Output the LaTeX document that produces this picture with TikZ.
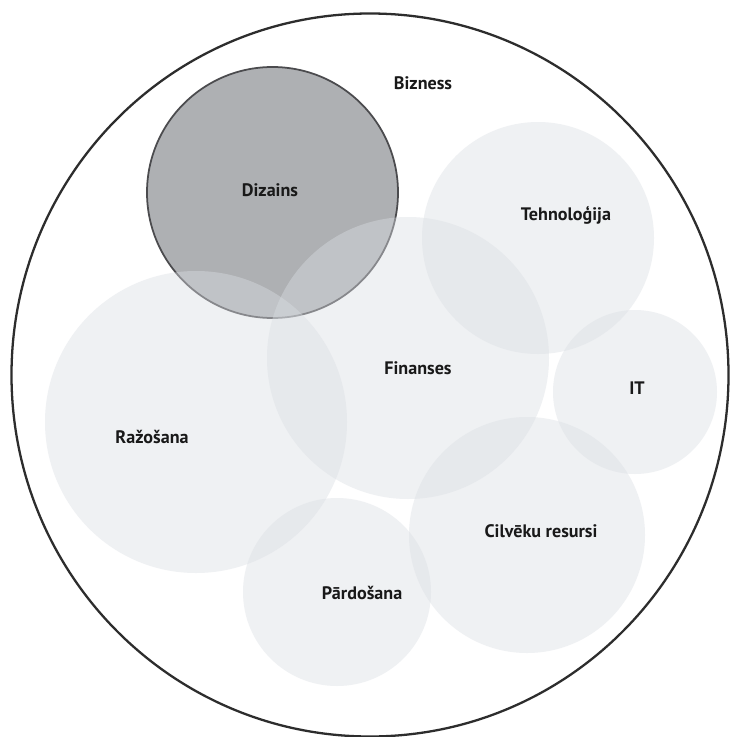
\documentclass[tikz,border=0pt]{standalone}
\usepackage{fontspec}
\setmainfont{PT Sans}
\definecolor{areagray}{RGB}{218,222,227}
\definecolor{focusgray}{RGB}{174,176,179}
\definecolor{focusline}{RGB}{75,75,78}
\definecolor{outerline}{RGB}{45,45,45}
\definecolor{labelblack}{RGB}{25,25,25}

\begin{document}
\begin{tikzpicture}[
    x=0.02cm, y=-0.02cm,
    outer/.style={draw=outerline, line width=1.3pt, fill=white},
    focus/.style={fill=focusgray, draw=focusline, line width=1pt},
    area/.style={fill=areagray, fill opacity=0.42},
    lbl/.style={font=\bfseries\fontsize{10.3}{12}\selectfont, text=labelblack, inner sep=0pt}
]
\useasboundingbox (0,0) rectangle (732,737);
\fill[white] (0,0) rectangle (732,737);
\draw[outer] (370,375) ellipse [x radius=358.5, y radius=361.5];
\draw[focus] (272.5,192.5) circle [radius=125.5];
\fill[area] (538,238) circle [radius=116];
\fill[area] (196,422) circle [radius=151];
\fill[area] (408,358) circle [radius=141];
\fill[area] (635,392) circle [radius=82];
\fill[area] (527,535) circle [radius=118];
\fill[area] (337,592) circle [radius=94];
\node[lbl] (biz) at (423,83) {Bizness};
\node[lbl] (diz) at (270,190) {Dizains};
\node[lbl] (teh) at (566,215) {Tehnoloģija};
\node[lbl] (fin) at (418,368) {Finanses};
\node[lbl] (it) at (637,388) {IT};
\node[lbl] (raz) at (152,437) {Ražošana};
\node[lbl] (par) at (362,593) {Pārdošana};
\node[lbl] (cil) at (541,531) {Cilvēku resursi};
\end{tikzpicture}
\end{document}
